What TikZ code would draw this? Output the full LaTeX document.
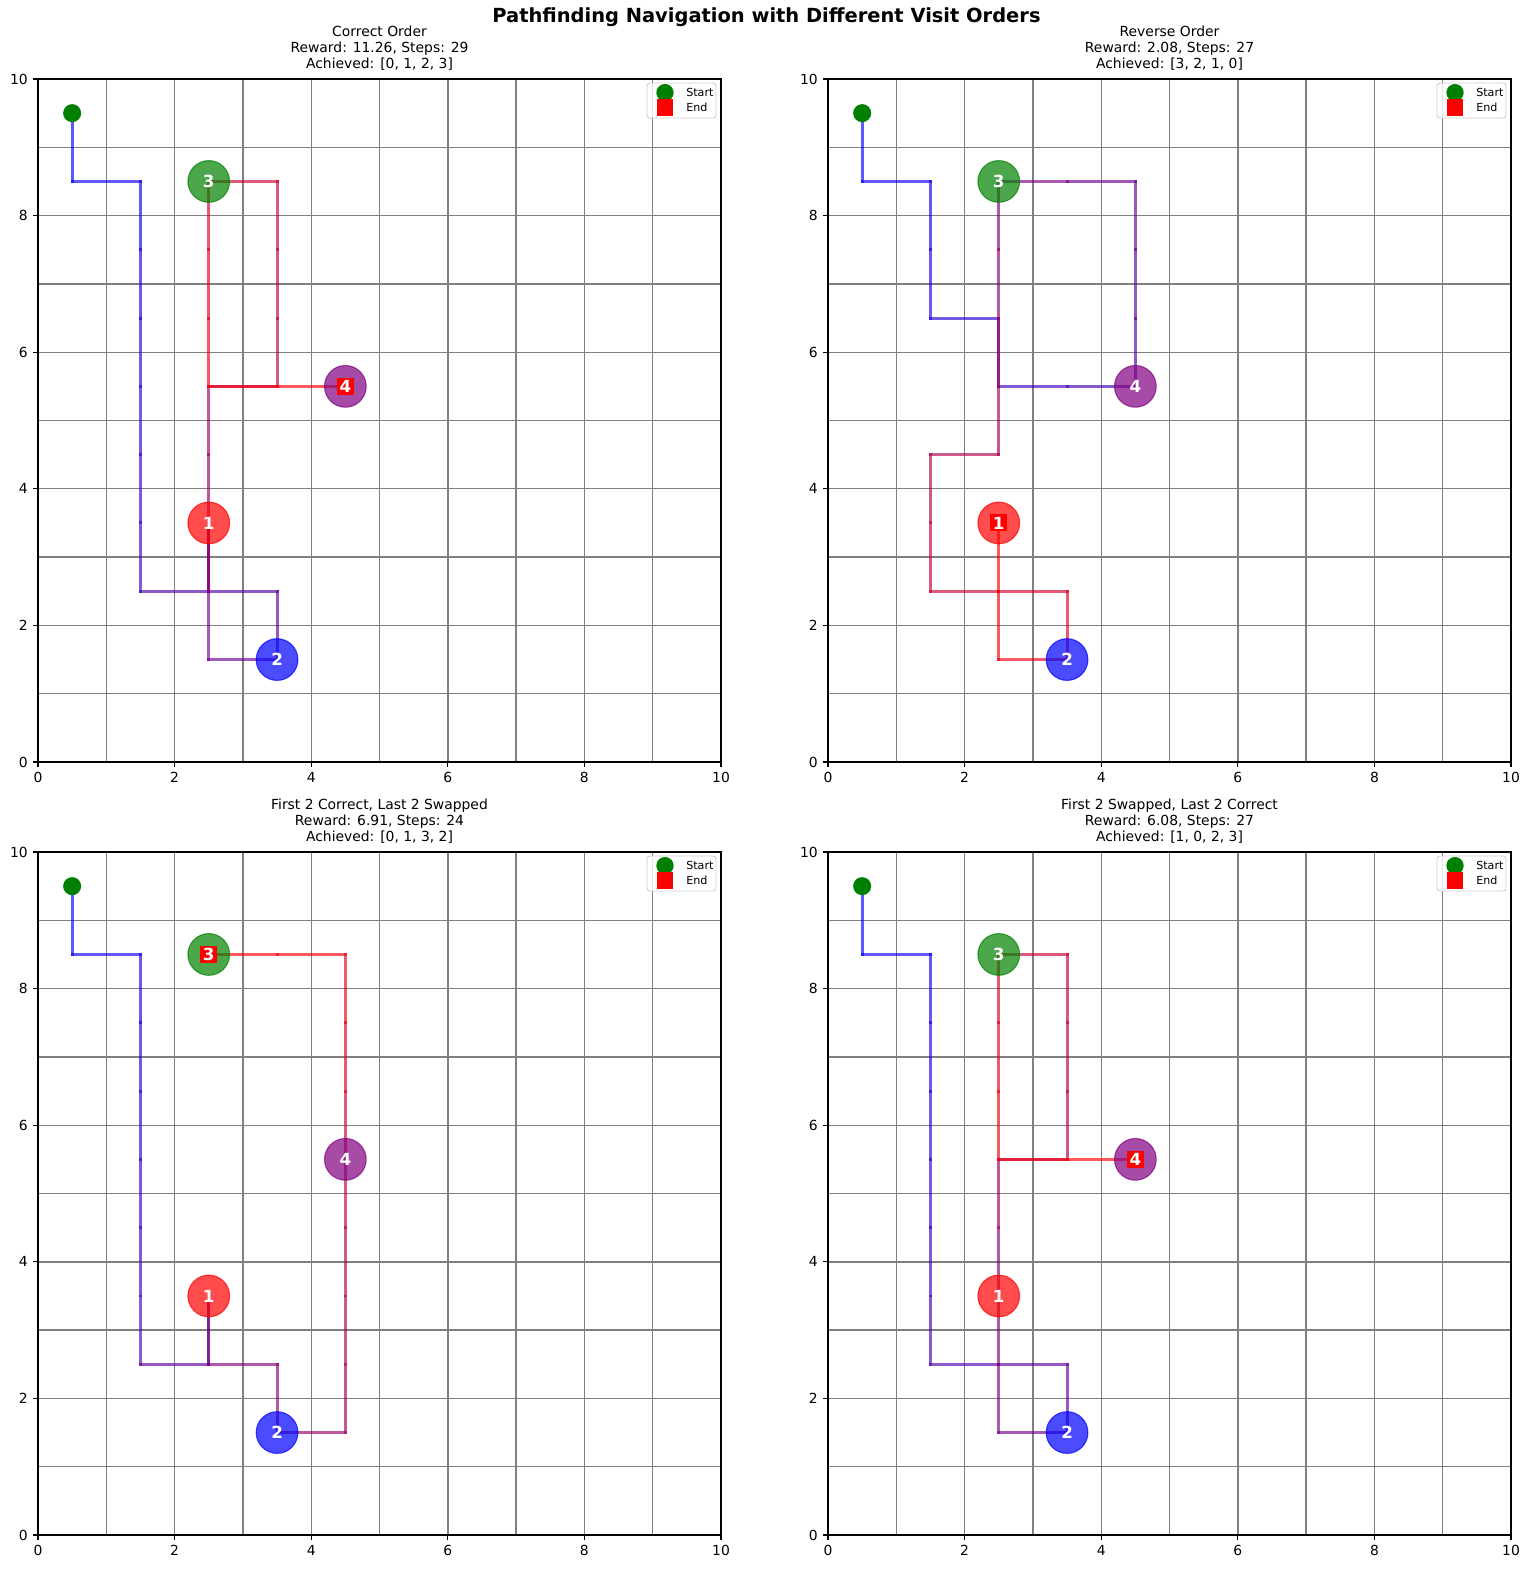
\documentclass[tikz,border=0pt]{standalone}
\usepackage{fontspec}
\setmainfont{DejaVu Sans}
\definecolor{mplgreen}{RGB}{0,128,0}
\definecolor{mplpurple}{RGB}{128,0,128}
\tikzset{
  gridline/.style={draw=black!50, line width=1pt},
  spine/.style={draw=black, line width=0.8pt},
  trailseg/.style={line width=2.1pt, line cap=rect, draw opacity=0.65},
  goal/.style={circle, minimum size=30pt, inner sep=0pt, fill opacity=0.7, draw opacity=0.7, line width=0.8pt},
  goallabel/.style={text=white, font=\fontsize{12}{14}\selectfont\bfseries, inner sep=0pt},
  startdot/.style={circle, fill=mplgreen, minimum size=13pt, inner sep=0pt},
  enddot/.style={rectangle, fill=red, minimum size=12.2pt, inner sep=0pt},
  legstart/.style={circle, fill=mplgreen, minimum size=12.5pt, inner sep=0pt},
  legend/.style={rectangle, fill=red, minimum size=11.8pt, inner sep=0pt},
  ticklab/.style={inner sep=0pt, font=\fontsize{10}{12}\selectfont},
  legtext/.style={inner sep=0pt, anchor=west, font=\fontsize{8}{9.6}\selectfont},
  paneltitle/.style={anchor=south, align=center, inner sep=0pt, font=\fontsize{10}{11.6}\selectfont}
}
% #1 x shift, #2 y shift, #3 title, #4 segments, #5 points, #6 end x, #7 end y, #8 prefix
\newcommand\panel[8]{%
\begin{scope}[shift={(#1,#2)}, x=49.176pt, y=49.176pt]
  \foreach \k in {1,...,9} {
    \draw[gridline] (\k,0) -- (\k,10);
    \draw[gridline] (0,\k) -- (10,\k);
  }
  \foreach \x/\y [count=\i, remember=\x as \px (initially 0.5), remember=\y as \py (initially 9.5)] in {#5} {
    \pgfmathsetmacro\pct{100*(\i-1)/(#4-1)}
    \draw[trailseg, draw=red!\pct!blue] (\px,\py) -- (\x,\y);
  }
  \node[goal, fill=red, draw=red] (#8g1) at (2.5,3.5) {};
  \node[goal, fill=blue, draw=blue] (#8g2) at (3.5,1.5) {};
  \node[goal, fill=mplgreen, draw=mplgreen] (#8g3) at (2.5,8.5) {};
  \node[goal, fill=mplpurple, draw=mplpurple] (#8g4) at (4.5,5.5) {};
  \node[startdot] (#8s) at (0.5,9.5) {};
  \node[enddot] (#8e) at (#6,#7) {};
  \node[goallabel] at (#8g1) {1};
  \node[goallabel] at (#8g2) {2};
  \node[goallabel] at (#8g3) {3};
  \node[goallabel] at (#8g4) {4};
  \draw[spine] (0,0) rectangle (10,10);
  \foreach \t in {0,2,4,6,8,10} {
    \draw[spine] (\t,0) -- ++(0,-3.5pt) node[ticklab, anchor=north, yshift=-3.5pt] {\t};
    \draw[spine] (0,\t) -- ++(-3.5pt,0) node[ticklab, anchor=east, xshift=-3.5pt] {\t};
  }
  \draw[draw=black!20, fill=white, fill opacity=0.8, rounded corners=2pt, line width=0.6pt] (8.917,9.429) rectangle (9.927,9.941);
  \node[legstart] (#8ls) at (9.18,9.80) {};
  \node[legend] (#8le) at (9.18,9.585) {};
  \node[legtext] at (9.488,9.80) {Start};
  \node[legtext] at (9.488,9.585) {End};
  \node[paneltitle] (#8t) at ([yshift=6pt]5,10) {#3};
\end{scope}}
\begin{document}
\begin{tikzpicture}[x=0.72pt, y=-0.72pt]
\useasboundingbox (0,0) rectangle (1533,1572);
\node[font=\fontsize{14}{16}\selectfont\bfseries, inner sep=0pt] (title) at (766.5,17) {Pathfinding Navigation with Different Visit Orders};
\panel{27.36pt}{-548.64pt}{Correct Order\\Reward: 11.26, Steps: 29\\Achieved: [0, 1, 2, 3]}{28}%
{0.5/8.5, 1.5/8.5, 1.5/7.5, 1.5/6.5, 1.5/5.5, 1.5/4.5, 1.5/3.5, 1.5/2.5, 2.5/2.5, 3.5/2.5, 3.5/1.5, 2.5/1.5, 2.5/2.5, 2.5/3.5, 2.5/2.5, 2.5/3.5, 2.5/4.5, 2.5/5.5, 3.5/5.5, 3.5/6.5, 3.5/7.5, 3.5/8.5, 2.5/8.5, 2.5/7.5, 2.5/6.5, 2.5/5.5, 3.5/5.5, 4.5/5.5}{4.5}{5.5}{a}
\panel{596.16pt}{-548.64pt}{Reverse Order\\Reward: 2.08, Steps: 27\\Achieved: [3, 2, 1, 0]}{26}%
{0.5/8.5, 1.5/8.5, 1.5/7.5, 1.5/6.5, 2.5/6.5, 2.5/5.5, 3.5/5.5, 4.5/5.5, 4.5/6.5, 4.5/7.5, 4.5/8.5, 3.5/8.5, 2.5/8.5, 2.5/7.5, 2.5/6.5, 2.5/5.5, 2.5/4.5, 1.5/4.5, 1.5/3.5, 1.5/2.5, 2.5/2.5, 3.5/2.5, 3.5/1.5, 2.5/1.5, 2.5/2.5, 2.5/3.5}{2.5}{3.5}{b}
\panel{27.36pt}{-1105.2pt}{First 2 Correct, Last 2 Swapped\\Reward: 6.91, Steps: 24\\Achieved: [0, 1, 3, 2]}{23}%
{0.5/8.5, 1.5/8.5, 1.5/7.5, 1.5/6.5, 1.5/5.5, 1.5/4.5, 1.5/3.5, 1.5/2.5, 2.5/2.5, 2.5/3.5, 2.5/2.5, 3.5/2.5, 3.5/1.5, 4.5/1.5, 4.5/2.5, 4.5/3.5, 4.5/4.5, 4.5/5.5, 4.5/6.5, 4.5/7.5, 4.5/8.5, 3.5/8.5, 2.5/8.5}{2.5}{8.5}{c}
\panel{596.16pt}{-1105.2pt}{First 2 Swapped, Last 2 Correct\\Reward: 6.08, Steps: 27\\Achieved: [1, 0, 2, 3]}{26}%
{0.5/8.5, 1.5/8.5, 1.5/7.5, 1.5/6.5, 1.5/5.5, 1.5/4.5, 1.5/3.5, 1.5/2.5, 2.5/2.5, 3.5/2.5, 3.5/1.5, 2.5/1.5, 2.5/2.5, 2.5/3.5, 2.5/4.5, 2.5/5.5, 3.5/5.5, 3.5/6.5, 3.5/7.5, 3.5/8.5, 2.5/8.5, 2.5/7.5, 2.5/6.5, 2.5/5.5, 3.5/5.5, 4.5/5.5}{4.5}{5.5}{d}
\end{tikzpicture}
\end{document}
